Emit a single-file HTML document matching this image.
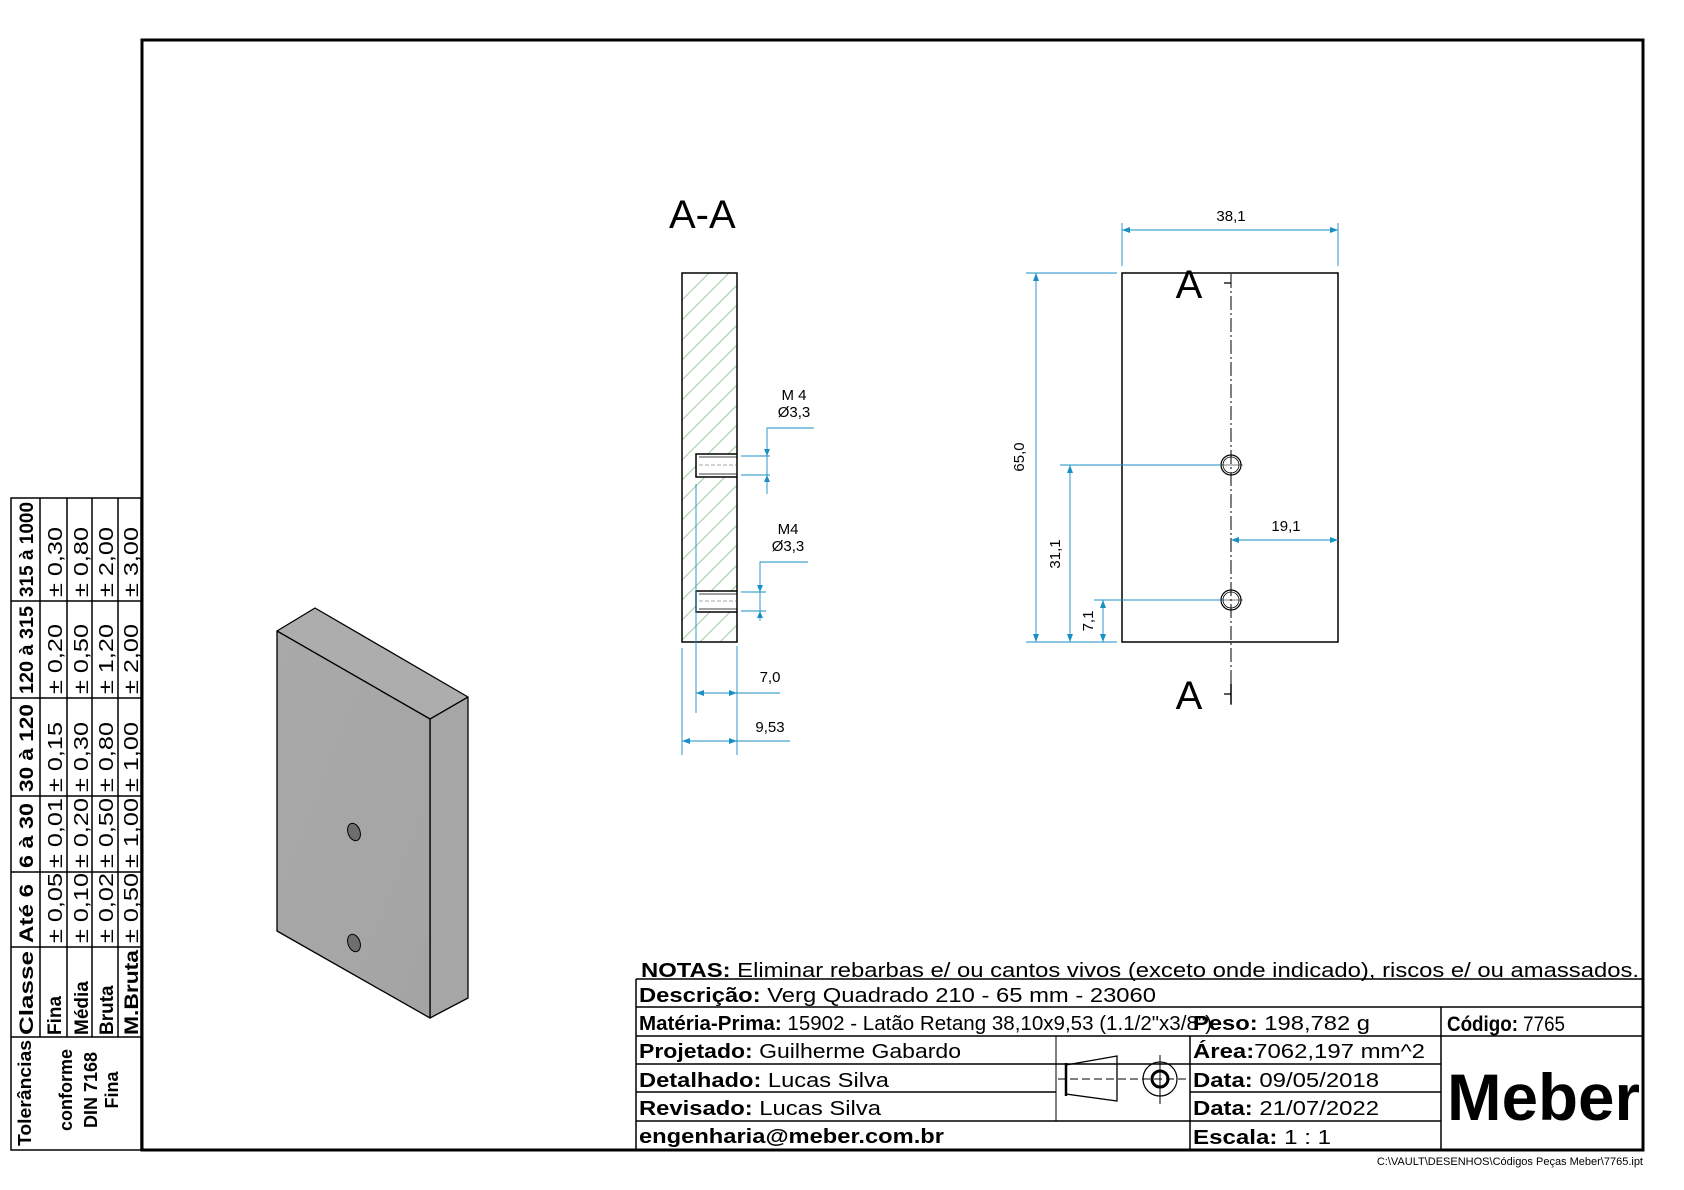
<!DOCTYPE html>
<html><head><meta charset="utf-8"><style>
html,body{margin:0;padding:0;background:#fff;}
svg{display:block;}
text{font-family:"Liberation Sans",sans-serif;}
</style></head><body>
<svg width="1684" height="1190" viewBox="0 0 1684 1190" xmlns="http://www.w3.org/2000/svg">
<defs>
<clipPath id="hc"><rect x="682" y="273" width="55" height="369"/></clipPath>
<linearGradient id="gf" x1="0" y1="0" x2="1" y2="1"><stop offset="0" stop-color="#a9a9a9"/><stop offset="1" stop-color="#a4a4a4"/></linearGradient>
</defs>
<rect x="142" y="40" width="1501" height="1110" fill="none" stroke="#000" stroke-width="3"/>

<g stroke="#000" stroke-width="1.5" fill="none">
<rect x="11" y="498" width="130" height="652"/>
<line x1="11" y1="1037" x2="141" y2="1037"/>
<line x1="40" y1="498" x2="40" y2="1037"/>
<line x1="67" y1="498" x2="67" y2="1037"/>
<line x1="92" y1="498" x2="92" y2="1037"/>
<line x1="118" y1="498" x2="118" y2="1037"/>
<line x1="11" y1="601" x2="141" y2="601"/>
<line x1="11" y1="698" x2="141" y2="698"/>
<line x1="11" y1="796" x2="141" y2="796"/>
<line x1="11" y1="872" x2="141" y2="872"/>
<line x1="11" y1="947" x2="141" y2="947"/>
</g>
<g font-size="19" fill="#000">
<text transform="translate(33,1035) rotate(-90)" font-weight="bold" textLength="84" lengthAdjust="spacingAndGlyphs">Classe</text>
<text transform="translate(33,943) rotate(-90)" font-weight="bold" textLength="59" lengthAdjust="spacingAndGlyphs">Até 6</text>
<text transform="translate(33,868) rotate(-90)" font-weight="bold" textLength="65" lengthAdjust="spacingAndGlyphs">6 à 30</text>
<text transform="translate(33,792) rotate(-90)" font-weight="bold" textLength="88" lengthAdjust="spacingAndGlyphs">30 à 120</text>
<text transform="translate(33,694) rotate(-90)" font-weight="bold" textLength="88" lengthAdjust="spacingAndGlyphs">120 à 315</text>
<text transform="translate(33,597) rotate(-90)" font-weight="bold" textLength="95" lengthAdjust="spacingAndGlyphs">315 à 1000</text>
<text transform="translate(61,1035) rotate(-90)" font-weight="bold">Fina</text>
<text transform="translate(88,1035) rotate(-90)" font-weight="bold">Média</text>
<text transform="translate(113,1035) rotate(-90)" font-weight="bold">Bruta</text>
<text transform="translate(138,1035) rotate(-90)" font-weight="bold" textLength="85" lengthAdjust="spacingAndGlyphs">M.Bruta</text>
</g>
<g font-size="20" fill="#000">
<text transform="translate(62,943) rotate(-90)" textLength="70" lengthAdjust="spacingAndGlyphs">± 0,05</text>
<text transform="translate(62,868) rotate(-90)" textLength="70" lengthAdjust="spacingAndGlyphs">± 0,01</text>
<text transform="translate(62,792) rotate(-90)" textLength="70" lengthAdjust="spacingAndGlyphs">± 0,15</text>
<text transform="translate(62,694) rotate(-90)" textLength="70" lengthAdjust="spacingAndGlyphs">± 0,20</text>
<text transform="translate(62,597) rotate(-90)" textLength="70" lengthAdjust="spacingAndGlyphs">± 0,30</text>
<text transform="translate(88,943) rotate(-90)" textLength="70" lengthAdjust="spacingAndGlyphs">± 0,10</text>
<text transform="translate(88,868) rotate(-90)" textLength="70" lengthAdjust="spacingAndGlyphs">± 0,20</text>
<text transform="translate(88,792) rotate(-90)" textLength="70" lengthAdjust="spacingAndGlyphs">± 0,30</text>
<text transform="translate(88,694) rotate(-90)" textLength="70" lengthAdjust="spacingAndGlyphs">± 0,50</text>
<text transform="translate(88,597) rotate(-90)" textLength="70" lengthAdjust="spacingAndGlyphs">± 0,80</text>
<text transform="translate(113,943) rotate(-90)" textLength="70" lengthAdjust="spacingAndGlyphs">± 0,02</text>
<text transform="translate(113,868) rotate(-90)" textLength="70" lengthAdjust="spacingAndGlyphs">± 0,50</text>
<text transform="translate(113,792) rotate(-90)" textLength="70" lengthAdjust="spacingAndGlyphs">± 0,80</text>
<text transform="translate(113,694) rotate(-90)" textLength="70" lengthAdjust="spacingAndGlyphs">± 1,20</text>
<text transform="translate(113,597) rotate(-90)" textLength="70" lengthAdjust="spacingAndGlyphs">± 2,00</text>
<text transform="translate(138,943) rotate(-90)" textLength="70" lengthAdjust="spacingAndGlyphs">± 0,50</text>
<text transform="translate(138,868) rotate(-90)" textLength="70" lengthAdjust="spacingAndGlyphs">± 1,00</text>
<text transform="translate(138,792) rotate(-90)" textLength="70" lengthAdjust="spacingAndGlyphs">± 1,00</text>
<text transform="translate(138,694) rotate(-90)" textLength="70" lengthAdjust="spacingAndGlyphs">± 2,00</text>
<text transform="translate(138,597) rotate(-90)" textLength="70" lengthAdjust="spacingAndGlyphs">± 3,00</text>
</g>
<g font-size="18" font-weight="bold" fill="#000" text-anchor="middle">
<text transform="translate(31,1093) rotate(-90)" textLength="106" lengthAdjust="spacingAndGlyphs">Tolerâncias</text>
<text transform="translate(72,1090) rotate(-90)">conforme</text>
<text transform="translate(97,1090) rotate(-90)">DIN 7168</text>
<text transform="translate(118,1090) rotate(-90)">Fina</text>
</g>

<g stroke="#000" stroke-width="1.3" stroke-linejoin="round">
<polygon points="277,631 315,608 468,697 430,719" fill="#adadad"/>
<polygon points="430,719 468,697 468,998 430,1018" fill="#a6a6a6"/>
<polygon points="277,631 430,719 430,1018 277,931" fill="url(#gf)"/>
</g>
<ellipse cx="354" cy="832" rx="6" ry="9" fill="#6e6e6e" stroke="#000" transform="rotate(-20 354 832)"/>
<ellipse cx="354" cy="943" rx="6" ry="9" fill="#6e6e6e" stroke="#000" transform="rotate(-20 354 943)"/>

<text x="669" y="228" font-size="40">A-A</text>
<g clip-path="url(#hc)" stroke="#8cc48c" stroke-width="0.8">
<path d="M682,300 l60,-60 M682,320 l60,-60 M682,340 l60,-60 M682,360 l60,-60 M682,380 l60,-60 M682,400 l60,-60 M682,420 l60,-60 M682,440 l60,-60 M682,460 l60,-60 M682,480 l60,-60 M682,500 l60,-60 M682,520 l60,-60 M682,540 l60,-60 M682,560 l60,-60 M682,580 l60,-60 M682,600 l60,-60 M682,620 l60,-60 M682,640 l60,-60 M682,660 l60,-60 M682,680 l60,-60"/>
</g>
<rect x="696" y="454" width="41" height="23" fill="#fff"/>
<rect x="696" y="591" width="41" height="21" fill="#fff"/>
<g stroke="#000" stroke-width="1.5" fill="none">
<rect x="682" y="273" width="55" height="369"/>
<polyline points="737,454 696,454 696,477 737,477"/>
<line x1="699" y1="457" x2="737" y2="457" stroke-width="0.8"/>
<line x1="699" y1="474" x2="737" y2="474" stroke-width="0.8"/>
<polyline points="737,591 696,591 696,612 737,612"/>
<line x1="699" y1="594" x2="737" y2="594" stroke-width="0.8"/>
<line x1="699" y1="609" x2="737" y2="609" stroke-width="0.8"/>
</g>
<line x1="699" y1="465" x2="737" y2="465" stroke="#555" stroke-width="0.6" stroke-dasharray="4,2"/>
<line x1="699" y1="601" x2="737" y2="601" stroke="#555" stroke-width="0.6" stroke-dasharray="4,2"/>

<g stroke="#1a8fc4" stroke-width="0.9" fill="none">
<polyline points="814,428 767,428 767,494"/>
<line x1="741" y1="456" x2="770" y2="456"/>
<line x1="741" y1="475" x2="770" y2="475"/>
<polyline points="808,562 760,562 760,621"/>
<line x1="741" y1="592" x2="766" y2="592"/>
<line x1="741" y1="611" x2="766" y2="611"/>
<line x1="696" y1="484" x2="696" y2="713"/>
<line x1="737" y1="646" x2="737" y2="755"/>
<line x1="696" y1="693" x2="780" y2="693"/>
<line x1="682" y1="648" x2="682" y2="755"/>
<line x1="682" y1="741" x2="790" y2="741"/>
</g>
<g fill="#1a8fc4">
<polygon points="764,449 770,449 767,456"/><polygon points="764,482 770,482 767,475"/>
<polygon points="757,585 763,585 760,592"/><polygon points="757,618 763,618 760,611"/>
<polygon points="696,693 704,690 704,696"/><polygon points="737,693 729,690 729,696"/>
<polygon points="682,741 690,738 690,744"/><polygon points="737,741 729,738 729,744"/>
</g>
<g font-size="15" fill="#000">
<text x="794" y="400" text-anchor="middle">M 4</text>
<text x="794" y="417" text-anchor="middle">Ø3,3</text>
<text x="788" y="534" text-anchor="middle">M4</text>
<text x="788" y="551" text-anchor="middle">Ø3,3</text>
<text x="770" y="682" text-anchor="middle">7,0</text>
<text x="770" y="732" text-anchor="middle">9,53</text>
</g>

<rect x="1122" y="273" width="216" height="369" fill="none" stroke="#000" stroke-width="1.5"/>
<line x1="1231" y1="274" x2="1231" y2="705" stroke="#000" stroke-width="1" stroke-dasharray="14,3,2,3"/>
<line x1="1224" y1="283" x2="1231" y2="283" stroke="#000" stroke-width="1.3"/>
<line x1="1224" y1="694" x2="1231" y2="694" stroke="#000" stroke-width="1.3"/>
<line x1="1231" y1="684" x2="1231" y2="704" stroke="#000" stroke-width="1.5"/>
<text x="1189" y="298" font-size="40" text-anchor="middle">A</text>
<text x="1189" y="709" font-size="40" text-anchor="middle">A</text>
<g fill="none" stroke="#000">
<circle cx="1231" cy="465" r="10" stroke-width="1.2"/><circle cx="1231" cy="465" r="8" stroke-width="0.8"/>
<circle cx="1231" cy="600" r="10" stroke-width="1.2"/><circle cx="1231" cy="600" r="8" stroke-width="0.8"/>
<line x1="1219" y1="465" x2="1243" y2="465" stroke-width="0.6"/>
<line x1="1219" y1="600" x2="1243" y2="600" stroke-width="0.6"/>
</g>
<g stroke="#1a8fc4" stroke-width="0.9" fill="none">
<line x1="1122" y1="223" x2="1122" y2="266"/>
<line x1="1338" y1="223" x2="1338" y2="266"/>
<line x1="1122" y1="230" x2="1338" y2="230"/>
<line x1="1026" y1="273" x2="1117" y2="273"/>
<line x1="1026" y1="642" x2="1117" y2="642"/>
<line x1="1036" y1="273" x2="1036" y2="642"/>
<line x1="1060" y1="465" x2="1221" y2="465"/>
<line x1="1070" y1="465" x2="1070" y2="642"/>
<line x1="1094" y1="600" x2="1221" y2="600"/>
<line x1="1103" y1="600" x2="1103" y2="642"/>
<line x1="1231" y1="540" x2="1338" y2="540"/>
</g>
<g fill="#1a8fc4">
<polygon points="1122,230 1130,227 1130,233"/><polygon points="1338,230 1330,227 1330,233"/>
<polygon points="1036,273 1033,281 1039,281"/><polygon points="1036,642 1033,634 1039,634"/>
<polygon points="1070,465 1067,473 1073,473"/><polygon points="1070,642 1067,634 1073,634"/>
<polygon points="1103,600 1100,608 1106,608"/><polygon points="1103,642 1100,634 1106,634"/>
<polygon points="1231,540 1239,537 1239,543"/><polygon points="1338,540 1330,537 1330,543"/>
</g>
<g font-size="15" fill="#000">
<text x="1231" y="221" text-anchor="middle">38,1</text>
<text x="1286" y="531" text-anchor="middle">19,1</text>
<text transform="translate(1024,457) rotate(-90)" text-anchor="middle">65,0</text>
<text transform="translate(1060,554) rotate(-90)" text-anchor="middle">31,1</text>
<text transform="translate(1093,621) rotate(-90)" text-anchor="middle">7,1</text>
</g>

<g stroke="#000" stroke-width="1.5" fill="none">
<line x1="636" y1="979" x2="1643" y2="979"/>
<line x1="636" y1="979" x2="636" y2="1150"/>
<line x1="636" y1="1007" x2="1643" y2="1007"/>
<line x1="636" y1="1036" x2="1643" y2="1036"/>
<line x1="636" y1="1064" x2="1441" y2="1064"/>
<line x1="636" y1="1092" x2="1056" y2="1092"/>
<line x1="1190" y1="1092" x2="1441" y2="1092"/>
<line x1="636" y1="1121" x2="1441" y2="1121"/>
<line x1="1056" y1="1036" x2="1056" y2="1121" stroke-width="1"/>
<line x1="1190" y1="1036" x2="1190" y2="1150"/>
<line x1="1441" y1="1007" x2="1441" y2="1150"/>
</g>
<g fill="#000" font-size="20">
<text x="641" y="977" textLength="998" lengthAdjust="spacingAndGlyphs"><tspan font-weight="bold">NOTAS:</tspan> Eliminar rebarbas e/ ou cantos vivos (exceto onde indicado), riscos e/ ou amassados.</text>
<text x="639" y="1002" textLength="517" lengthAdjust="spacingAndGlyphs"><tspan font-weight="bold">Descrição:</tspan> Verg Quadrado 210 - 65 mm - 23060</text>
<text x="639" y="1030" textLength="573" lengthAdjust="spacingAndGlyphs"><tspan font-weight="bold">Matéria-Prima:</tspan> 15902 - Latão Retang 38,10x9,53 (1.1/2"x3/8")</text>
<text x="1193" y="1030" textLength="177" lengthAdjust="spacingAndGlyphs"><tspan font-weight="bold">Peso:</tspan> 198,782 g</text>
<text x="1447" y="1031" font-size="21" textLength="118" lengthAdjust="spacingAndGlyphs"><tspan font-weight="bold">Código:</tspan> 7765</text>
<text x="639" y="1058" textLength="322" lengthAdjust="spacingAndGlyphs"><tspan font-weight="bold">Projetado:</tspan> Guilherme Gabardo</text>
<text x="639" y="1087" textLength="250" lengthAdjust="spacingAndGlyphs"><tspan font-weight="bold">Detalhado:</tspan> Lucas Silva</text>
<text x="639" y="1115" textLength="242" lengthAdjust="spacingAndGlyphs"><tspan font-weight="bold">Revisado:</tspan> Lucas Silva</text>
<text x="639" y="1143" font-weight="bold" textLength="305" lengthAdjust="spacingAndGlyphs">engenharia@meber.com.br</text>
<text x="1193" y="1058" textLength="232" lengthAdjust="spacingAndGlyphs"><tspan font-weight="bold">Área:</tspan>7062,197 mm^2</text>
<text x="1193" y="1087" textLength="186" lengthAdjust="spacingAndGlyphs"><tspan font-weight="bold">Data:</tspan> 09/05/2018</text>
<text x="1193" y="1115" textLength="186" lengthAdjust="spacingAndGlyphs"><tspan font-weight="bold">Data:</tspan> 21/07/2022</text>
<text x="1193" y="1144" textLength="138" lengthAdjust="spacingAndGlyphs"><tspan font-weight="bold">Escala:</tspan> 1 : 1</text>
<text x="1447" y="1120" font-size="66" font-weight="bold" textLength="193" lengthAdjust="spacingAndGlyphs">Meber</text>
<text x="1643" y="1165" font-size="11" text-anchor="end">C:\VAULT\DESENHOS\Códigos Peças Meber\7765.ipt</text>
</g>
<g stroke="#000" fill="none">
<polygon points="1066,1065 1117,1056 1117,1101 1066,1094" stroke-width="1.3"/>
<line x1="1066" y1="1063" x2="1066" y2="1096" stroke-width="2.5"/>
<line x1="1058" y1="1079" x2="1187" y2="1079" stroke-width="1" stroke-dasharray="8,4"/>
<circle cx="1160" cy="1079" r="17" stroke-width="1.2"/>
<circle cx="1160" cy="1079" r="8" stroke-width="3"/>
<line x1="1160" y1="1055" x2="1160" y2="1104" stroke-width="1"/>
</g>
</svg>
</body></html>
